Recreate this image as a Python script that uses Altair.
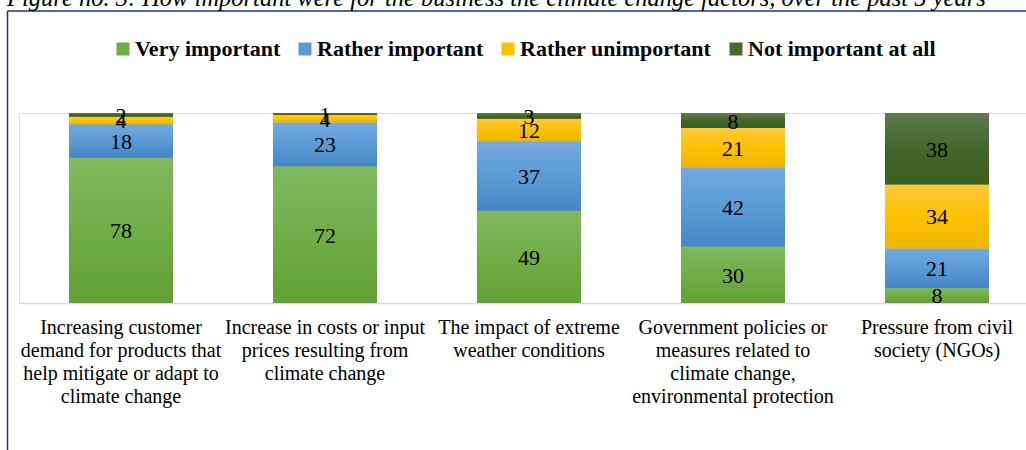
import altair as alt
import pandas as pd

categories = [
    "Increasing customer\ndemand for products that\nhelp mitigate or adapt to\nclimate change",
    "Increase in costs or input\nprices resulting from\nclimate change",
    "The impact of extreme\nweather conditions",
    "Government policies or\nmeasures related to\nclimate change,\nenvironmental protection",
    "Pressure from civil\nsociety (NGOs)",
]
series = ["Very important", "Rather important", "Rather unimportant", "Not important at all"]
very_important = [78, 72, 49, 30, 8]
rather_important = [18, 23, 37, 42, 21]
rather_unimportant = [4, 4, 12, 21, 34]
not_important = [2, 1, 3, 8, 38]
base_colors = ["#70ad47", "#5b9bd5", "#ffc000", "#46692f"]
gradients = [
    [("#80b960", 0), ("#70ad47", 0.5), ("#62a134", 1)],
    [("#74aadf", 0), ("#5b9bd5", 0.5), ("#4485c5", 1)],
    [("#ffca3d", 0), ("#ffc000", 0.5), ("#ebb500", 1)],
    [("#5e7c4e", 0), ("#42662b", 0.5), ("#3a5f1f", 1)],
]
title_text = "Figure no. 3: How important were for the business the climate change factors, over the past 5 years"

rows = []
for vals, s_idx in zip([very_important, rather_important, rather_unimportant, not_important], range(4)):
    for c, v in zip(categories, vals):
        rows.append({"cat": c, "series": series[s_idx], "order": s_idx, "value": v})
df = pd.DataFrame(rows)

W = 1007
H = 190
PAD_L = 19
PAD_T = 113

xenc = alt.X(
    "cat:N",
    sort=categories,
    scale=alt.Scale(range=[0, 1020], paddingInner=0.49, paddingOuter=0.245),
    axis=alt.Axis(
        title=None,
        labelAngle=0,
        labelExpr="split(datum.label, '\\n')",
        labelFont="Liberation Serif",
        labelFontSize=20,
        labelColor="#000000",
        labelLineHeight=23,
        labelPadding=14,
        labelLimit=0,
        ticks=False,
        domainColor="#d9d9d9",
        domainWidth=1.5,
        grid=False,
    ),
)
yscale = alt.Scale(domain=[0, 1], nice=False, zero=True)

base = alt.Chart(df).transform_stack(
    stack="value",
    groupby=["cat"],
    as_=["y0", "y1"],
    offset="normalize",
    sort=[alt.SortField("order", order="ascending")],
).transform_calculate(ymid="(datum.y0 + datum.y1) / 2")

legend_layer = base.mark_bar().encode(
    x=xenc,
    y=alt.Y("y0:Q", scale=yscale, axis=None),
    y2="y1:Q",
    color=alt.Color(
        "series:N",
        sort=series,
        scale=alt.Scale(domain=series, range=base_colors),
        legend=alt.Legend(
            title=None,
            orient="none",
            legendX=93,
            legendY=-75,
            direction="horizontal",
            columns=4,
            symbolType="square",
            symbolSize=169,
            symbolStrokeWidth=0,
            labelFont="Liberation Serif",
            labelFontWeight="bold",
            labelFontSize=22,
            labelColor="#000000",
            labelOffset=1,
            columnPadding=13,
            labelLimit=0,
        ),
    ),
)

grad_layers = []
for s, g in zip(series, gradients):
    grad_layers.append(
        base.transform_filter(alt.datum.series == s).mark_bar(
            fill=alt.LinearGradient(
                gradient="linear",
                stops=[alt.GradientStop(color=c, offset=o) for c, o in g],
                x1=0, x2=0, y1=0, y2=1,
            )
        ).encode(
            x=xenc,
            y=alt.Y("y0:Q", scale=yscale, axis=None),
            y2="y1:Q",
        )
    )

labels = base.mark_text(
    font="Liberation Serif", fontSize=22, color="#000000", baseline="middle", dy=1
).encode(
    x=xenc,
    y=alt.Y("ymid:Q", scale=yscale, axis=None),
    text="value:Q",
)

one = alt.Data(values=[{"a": 1}])
border_left = alt.Chart(one).mark_rule(color="#1f3864", strokeWidth=1.5).encode(
    x=alt.value(-11.5), y=alt.value(-102), y2=alt.value(400)
)
border_top = alt.Chart(one).mark_rule(color="#1f3864", strokeWidth=1.5).encode(
    x=alt.value(-11.5), x2=alt.value(1100), y=alt.value(-102)
)
title = alt.Chart(alt.Data(values=[{"t": title_text}])).mark_text(
    font="Liberation Serif", fontStyle="italic", fontSize=24.5, color="#000000",
    align="left", baseline="alphabetic"
).encode(x=alt.value(-12), y=alt.value(-107), text="t:N")

chart = alt.layer(
    legend_layer, *grad_layers, labels, border_left, border_top, title
).properties(
    width=W,
    height=H,
    autosize=alt.AutoSizeParams(type="none"),
    padding={"left": PAD_L, "top": PAD_T, "right": 0, "bottom": 450 - PAD_T - H},
).configure_view(stroke=None).configure(background="white")

chart.save("out.html", embed_options={"renderer": "svg", "actions": False})
